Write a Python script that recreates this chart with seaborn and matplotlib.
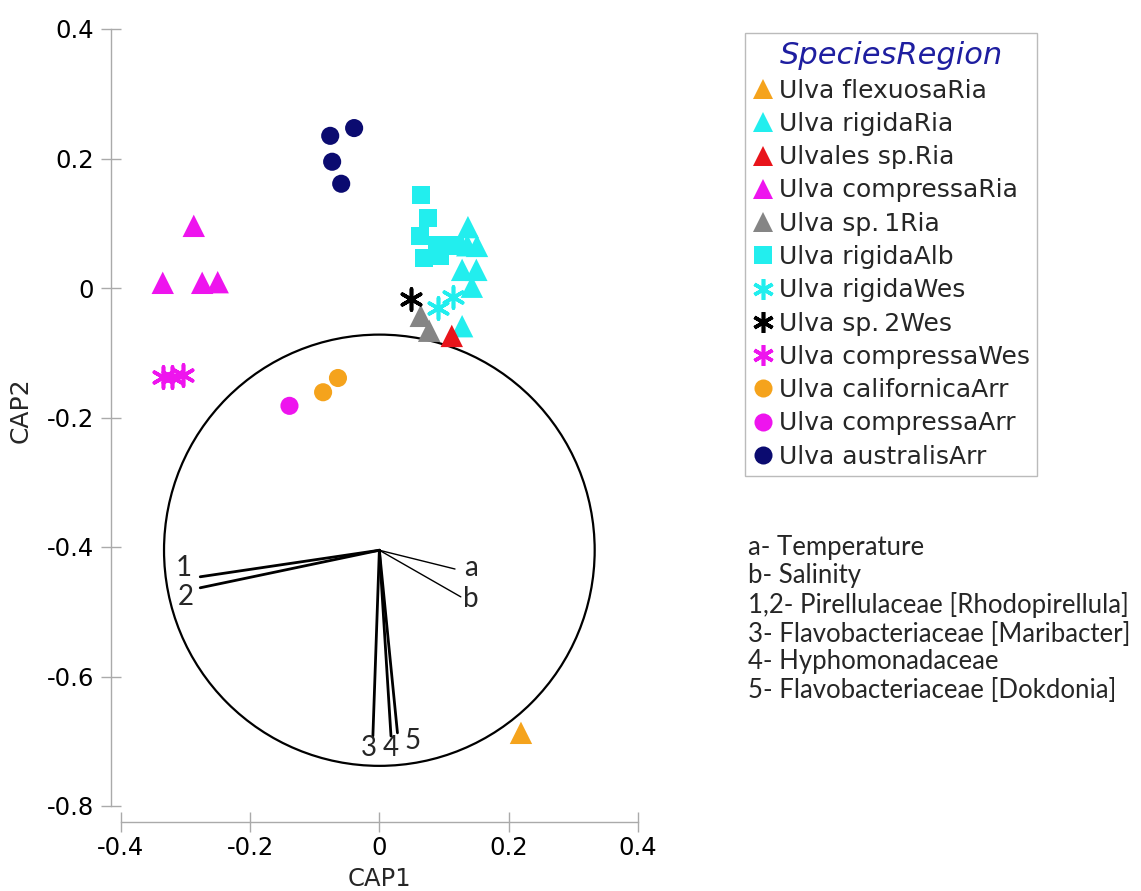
import numpy as np
import pandas as pd
import matplotlib
matplotlib.use("Agg")
import matplotlib.pyplot as plt
import seaborn as sns
from matplotlib.lines import Line2D
from matplotlib.patches import Circle

# ---------------- data ----------------
groups = ["Ulva flexuosaRia", "Ulva rigidaRia", "Ulvales sp.Ria", "Ulva compressaRia",
          "Ulva sp.1Ria", "Ulva rigidaAlb", "Ulva rigidaWes", "Ulva sp.2Wes",
          "Ulva compressaWes", "Ulva californicaArr", "Ulva compressaArr", "Ulva australisArr"]
legend_labels = ["Ulva flexuosaRia", "Ulva rigidaRia", "Ulvales sp.Ria", "Ulva compressaRia",
                 "Ulva sp.\u20091Ria", "Ulva rigidaAlb", "Ulva rigidaWes", "Ulva sp.\u20092Wes",
                 "Ulva compressaWes", "Ulva californicaArr", "Ulva compressaArr", "Ulva australisArr"]

flexuosa_ria_x = [0.219]
flexuosa_ria_y = [-0.687]
rigida_ria_x = [0.137, 0.136, 0.151, 0.128, 0.150, 0.143, 0.128]
rigida_ria_y = [0.094, 0.066, 0.065, 0.028, 0.028, 0.002, -0.059]
ulvales_ria_x = [0.112]
ulvales_ria_y = [-0.074]
compressa_ria_x = [-0.287, -0.335, -0.274, -0.250]
compressa_ria_y = [0.096, 0.008, 0.008, 0.009]
sp1_ria_x = [0.064, 0.077]
sp1_ria_y = [-0.043, -0.066]
rigida_alb_x = [0.064, 0.075, 0.063, 0.089, 0.109, 0.069, 0.094, 0.117]
rigida_alb_y = [0.144, 0.108, 0.080, 0.066, 0.066, 0.046, 0.049, 0.065]
rigida_wes_x = [0.091, 0.114]
rigida_wes_y = [-0.031, -0.014]
sp2_wes_x = [0.049]
sp2_wes_y = [-0.017]
compressa_wes_x = [-0.335, -0.320, -0.304]
compressa_wes_y = [-0.137, -0.137, -0.134]
californica_arr_x = [-0.087, -0.064]
californica_arr_y = [-0.161, -0.139]
compressa_arr_x = [-0.139]
compressa_arr_y = [-0.182]
australis_arr_x = [-0.039, -0.076, -0.073, -0.059]
australis_arr_y = [0.247, 0.235, 0.195, 0.161]

xs = [flexuosa_ria_x, rigida_ria_x, ulvales_ria_x, compressa_ria_x, sp1_ria_x, rigida_alb_x,
      rigida_wes_x, sp2_wes_x, compressa_wes_x, californica_arr_x, compressa_arr_x, australis_arr_x]
ys = [flexuosa_ria_y, rigida_ria_y, ulvales_ria_y, compressa_ria_y, sp1_ria_y, rigida_alb_y,
      rigida_wes_y, sp2_wes_y, compressa_wes_y, californica_arr_y, compressa_arr_y, australis_arr_y]

colors = ["#F5A31C", "#22EEEE", "#E8141B", "#EE14EE", "#858585", "#22EEEE",
          "#22EEEE", "#000000", "#EE14EE", "#F5A31C", "#EE14EE", "#0B0B70"]
kinds = ["tri", "tri", "tri", "tri", "tri", "sq", "ast", "ast", "ast", "circ", "circ", "circ"]

# vectors (correlation biplot) - origin and end points
vec_origin = (0.0, -0.405)
vec_labels = ["1", "2", "a", "b", "3", "4", "5"]
vec_end_x = [-0.277, -0.277, 0.117, 0.126, -0.010, 0.018, 0.028]
vec_end_y = [-0.446, -0.463, -0.434, -0.477, -0.692, -0.692, -0.687]
vec_lab_x = [-0.303, -0.300, 0.142, 0.142, -0.016, 0.018, 0.052]
vec_lab_y = [-0.432, -0.477, -0.432, -0.480, -0.711, -0.711, -0.699]
circle_radius = 0.333

notes = ["a- Temperature", "b- Salinity", "1,2- Pirellulaceae [Rhodopirellula]",
         "3- Flavobacteriaceae [Maribacter]", "4- Hyphomonadaceae",
         "5- Flavobacteriaceae [Dokdonia]"]

rows = []
for g, xv, yv in zip(groups, xs, ys):
    for a, b in zip(xv, yv):
        rows.append((g, a, b))
df = pd.DataFrame(rows, columns=["group", "CAP1", "CAP2"])

marker_map = {"tri": "^", "sq": "s", "ast": (6, 2, 0), "circ": "o"}
size_map = {"tri": 260, "sq": 170, "ast": 230, "circ": 170}

# ---------------- figure ----------------
sns.set_style("white")
plt.rcParams["font.family"] = ["DejaVu Sans"]

fig = plt.figure(figsize=(11.41, 8.91), dpi=100)
ax = fig.add_axes([120.7 / 1141, 1 - 806 / 891, (638 - 120.7) / 1141, (806 - 29) / 891])

# circle and vectors
ax.add_patch(Circle(vec_origin, circle_radius, fill=False, edgecolor="black", linewidth=1.6, zorder=1))
lw = [2.0, 2.0, 1.0, 1.0, 2.0, 2.0, 2.0]
for lab, ex, ey, lx, ly, w in zip(vec_labels, vec_end_x, vec_end_y, vec_lab_x, vec_lab_y, lw):
    ax.plot([vec_origin[0], ex], [vec_origin[1], ey], color="black", linewidth=w, zorder=1)
    ax.text(lx, ly, lab, fontsize=20, family="Lato", ha="center", va="center", zorder=2)

for g, c, k in zip(groups, colors, kinds):
    sub = df[df["group"] == g]
    kw = dict(data=sub, x="CAP1", y="CAP2", color=c, marker=marker_map[k], s=size_map[k],
              ax=ax, legend=False, zorder=3, clip_on=False)
    if k == "ast":
        sns.scatterplot(linewidth=2.6, **kw)
    else:
        sns.scatterplot(linewidth=0, edgecolor="none", **kw)

ax.set_xlim(-0.4, 0.4)
ax.set_ylim(-0.8, 0.4)
ax.set_xticks([-0.4, -0.2, 0, 0.2, 0.4])
ax.set_xticklabels(["-0.4", "-0.2", "0", "0.2", "0.4"])
ax.set_yticks([-0.8, -0.6, -0.4, -0.2, 0, 0.2, 0.4])
ax.set_yticklabels(["-0.8", "-0.6", "-0.4", "-0.2", "0", "0.2", "0.4"])

for s in ["top", "right"]:
    ax.spines[s].set_visible(False)
ax.spines["left"].set_position(("outward", 7.2))
ax.spines["bottom"].set_position(("outward", 11.5))
ax.spines["left"].set_bounds(-0.8, 0.4)
ax.spines["bottom"].set_bounds(-0.4, 0.4)
for s in ["left", "bottom"]:
    ax.spines[s].set_color("#aaaaaa")
    ax.spines[s].set_linewidth(1.0)
ax.tick_params(axis="both", bottom=True, left=True, direction="inout", length=14.4,
               width=1.0, color="#aaaaaa", labelsize=17.5, labelcolor="black")
ax.tick_params(axis="y", pad=5)
ax.tick_params(axis="x", pad=3)
ax.set_xlabel("CAP1", fontsize=17.5, labelpad=5)
ax.set_ylabel("CAP2", fontsize=18)
ax.yaxis.set_label_coords((33 - 120.7) / 517.3, (806 - 410) / 777)

# legend
handles = []
for lab, c, k in zip(legend_labels, colors, kinds):
    ms = {"tri": 15, "sq": 12.5, "ast": 15, "circ": 13}[k]
    mew = 2.6 if k == "ast" else 0
    handles.append(Line2D([], [], linestyle="none", marker=marker_map[k], markersize=ms,
                          color=c, markerfacecolor=c, markeredgecolor=c, markeredgewidth=mew))
leg = fig.legend(handles=handles, labels=legend_labels, loc="upper left",
                 bbox_to_anchor=(745 / 1141, 1 - 33 / 891), fontsize=18,
                 title="SpeciesRegion", title_fontsize=22, frameon=True, fancybox=False,
                 edgecolor="#bbbbbb", framealpha=1, borderpad=0.3, labelspacing=0.37,
                 handlelength=0.8, handletextpad=0.25, borderaxespad=0)
leg.get_title().set_style("italic")
leg.get_title().set_color("#1E1EA0")
leg.get_frame().set_linewidth(1.0)

# notes
note_y = [547, 576, 605, 634, 662, 691]
for t, yy in zip(notes, note_y):
    fig.text(748 / 1141, 1 - yy / 891, t, fontsize=18.5, family="Lato", ha="left", va="center")

fig.savefig("out.png", dpi=100)
